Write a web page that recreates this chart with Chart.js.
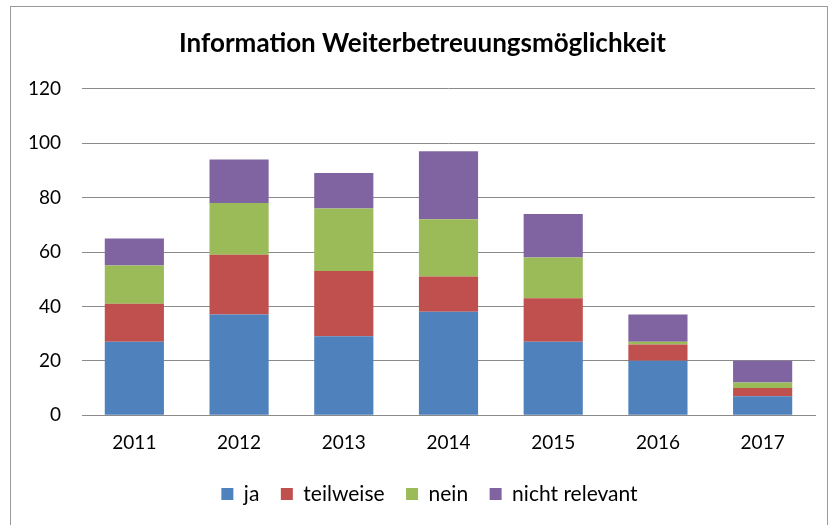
<!DOCTYPE html>
<html lang="de">

<head>
    <meta charset="UTF-8">
    <script src="https://cdn.jsdelivr.net/npm/chart.js"></script>
    <title>Information Weiterbetreuungsmöglichkeit</title>
    <style>
        html, body { margin: 0; padding: 0; background: #fff; }
        .rahmen {
            position: absolute; left: 10px; top: 6px; width: 818px; height: 530px;
            border: 1px solid #9a9a9a; box-sizing: border-box;
        }
        .grafico { position: absolute; left: 0; top: 0; width: 830px; height: 525px; }
    </style>
</head>

<body>
    <div class="rahmen"></div>
    <div class="grafico">
        <canvas id="grafico" width="830" height="525"></canvas>
    </div>

<script>
    // Daten
    const jahre = ['2011', '2012', '2013', '2014', '2015', '2016', '2017'];
    const ja = [27, 37, 29, 38, 27, 20, 7];
    const teilweise = [14, 22, 24, 13, 16, 6, 3];
    const nein = [14, 19, 23, 21, 15, 1, 2];
    const nichtRelevant = [10, 16, 13, 25, 16, 10, 8];
    const yTicks = [0, 20, 40, 60, 80, 100, 120];

    const schrift = "Lato, 'Open Sans', sans-serif";
    const gitter = '#8a8a8a';

    function serie(label, data, farbe) {
        return {
            label: label,
            data: data,
            backgroundColor: farbe,
            borderWidth: 0,
            categoryPercentage: 1,
            barPercentage: 0.565
        };
    }

    // Titel und Legende etwas nach rechts schieben (wie im Original)
    const verschieben = {
        id: 'verschieben',
        afterLayout(chart) {
            chart.legend.left += 22;
            chart.legend.right += 22;
            chart.titleBlock.left += 15;
            chart.titleBlock.right += 15;
        }
    };

    new Chart(document.getElementById('grafico'), {
        type: 'bar',
        data: {
            labels: jahre,
            datasets: [
                serie('ja', ja, '#4F81BD'),
                serie('teilweise', teilweise, '#C0504D'),
                serie('nein', nein, '#9BBB59'),
                serie('nicht relevant', nichtRelevant, '#8064A2')
            ]
        },
        plugins: [verschieben],
        options: {
            responsive: false,
            animation: false,
            devicePixelRatio: 1,
            layout: { padding: { left: 0, right: 15, top: 0, bottom: 10.5 } },
            plugins: {
                title: {
                    display: true,
                    text: 'Information Weiterbetreuungsmöglichkeit',
                    color: '#000',
                    font: { family: schrift, size: 26, weight: 'bold' },
                    padding: { top: 28, bottom: 29.6 }
                },
                legend: {
                    position: 'bottom',
                    labels: {
                        color: '#000',
                        font: { family: schrift, size: 21 },
                        boxWidth: 12,
                        boxHeight: 12,
                        padding: 21.5
                    }
                },
                tooltip: { enabled: false }
            },
            scales: {
                x: {
                    stacked: true,
                    grid: { display: false },
                    border: { display: true, color: gitter, width: 1 },
                    ticks: { color: '#000', font: { family: schrift, size: 19 }, padding: 8, maxRotation: 0 }
                },
                y: {
                    stacked: true,
                    min: 0,
                    max: 120,
                    afterFit: (scale) => { scale.width = 82; },
                    afterBuildTicks: (scale) => { scale.ticks = yTicks.map(v => ({ value: v })); },
                    grid: { color: gitter, lineWidth: 1, drawTicks: false },
                    border: { display: false },
                    ticks: { color: '#000', font: { family: schrift, size: 19 }, padding: 21 }
                }
            }
        }
    });
</script>
</body>

</html>
